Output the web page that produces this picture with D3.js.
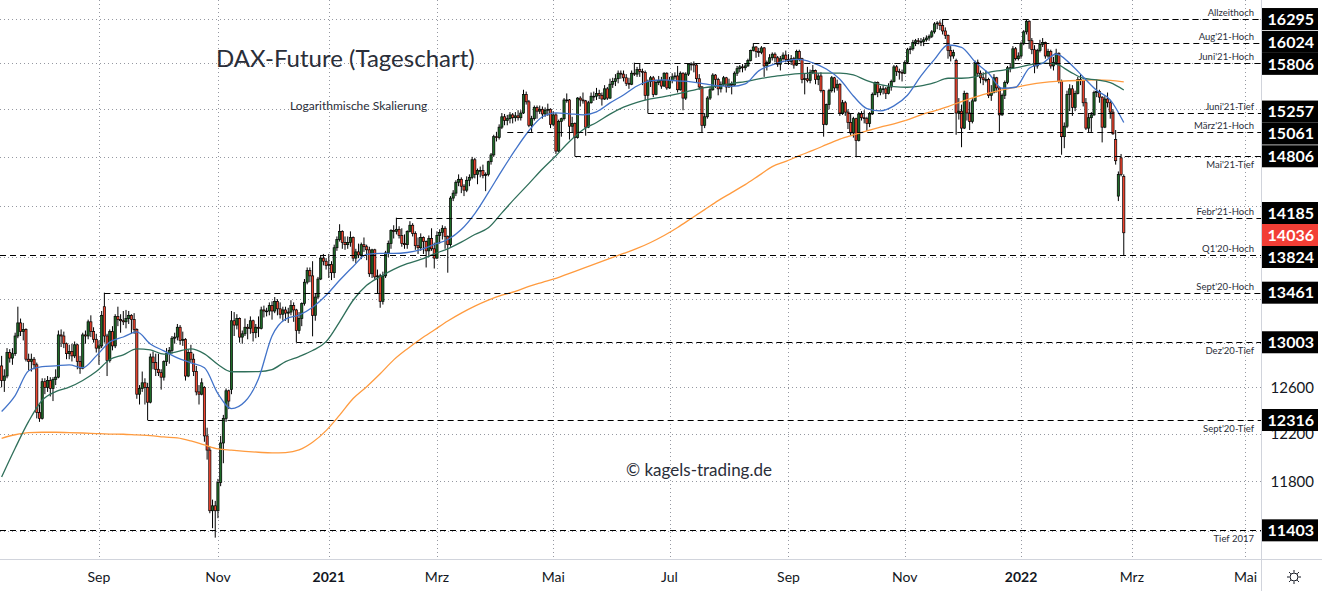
<!DOCTYPE html>
<html>
<head>
<meta charset="utf-8">
<script src="https://cdn.jsdelivr.net/npm/d3@7/dist/d3.min.js"></script>
<style>
  html, body { margin: 0; padding: 0; background: #fff; }
  svg { display: block; font-family: Lato, "Noto Sans", sans-serif; }
</style>
</head>
<body>
<svg id="chart" width="1322" height="591"></svg>
<script>
// trading calendar (Eurex) and axis labels
const startDate = "2020-07-13";
const endDate = "2022-05-31";
const holidays = ["2020-12-24", "2020-12-25", "2020-12-31", "2021-01-01", "2021-04-02", "2021-04-05",
  "2021-12-24", "2021-12-31", "2022-04-15", "2022-04-18"];
const tickDates = ["2020-09-01", "2020-11-02", "2021-01-04", "2021-03-01", "2021-05-03", "2021-07-01",
  "2021-09-01", "2021-11-01", "2022-01-03", "2022-03-01", "2022-05-02"];
const tickLabels = ["Sep", "Nov", "2021", "Mrz", "Mai", "Jul", "Sep", "Nov", "2022", "Mrz", "Mai"];
const priceTicks = [11400, 11800, 12200, 12600, 13000, 13400, 13800, 14300, 14800, 15300, 15800, 16300];

// marked price levels
const levelValues = [16295, 16024, 15806, 15257, 15061, 14806, 14185, 13824, 13461, 13003, 12316, 11403];
const levelNames = ["Allzeithoch", "Aug'21-Hoch", "Juni'21-Hoch", "Juni'21-Tief", "März'21-Hoch", "Mai'21-Tief",
  "Febr'21-Hoch", "Q1'20-Hoch", "Sept'20-Hoch", "Dez'20-Tief", "Sept'20-Tief", "Tief 2017"];
const levelFrom = ["2021-11-19", "2021-08-13", "2021-06-14", "2021-06-21", "2021-04-08", "2021-05-13",
  "2021-02-08", "2020-07-13", "2020-09-03", "2020-12-11", "2020-09-25", "2020-07-13"];
const lastPrice = 14036;

// daily candles [open, high, low, close] per month
const jul2020 = [[12790,12880,12600,12660],[12660,12760,12560,12700],[12700,12950,12680,12910],[12910,12940,12820,12860],[12860,12950,12800,12900],
  [12900,13090,12880,13060],[13060,13330,13040,13180],[13180,13220,13060,13100],[13100,13180,13020,13120],[13120,13130,12830,12850],
  [12850,12900,12750,12830],[12830,12900,12740,12850],[12850,12870,12760,12800],[12800,12820,12330,12380],[12380,12450,12300,12330]];
const aug2020 = [[12330,12680,12320,12650],[12650,12680,12540,12600],[12600,12700,12560,12660],[12660,12690,12520,12590],[12590,12690,12480,12670],
  [12670,12760,12620,12690],[12690,13110,12680,13070],[13070,13120,12960,13060],[13060,13100,12950,12990],[12990,13000,12850,12900],
  [12900,12980,12850,12920],[12920,12990,12830,12880],[12880,13010,12860,12980],[12980,12990,12760,12830],[12830,12880,12720,12770],
  [12770,13090,12760,13070],[13070,13110,12990,13060],[13060,13210,13030,13190],[13190,13250,13050,13100],[13100,13140,13000,13030],
  [13030,13080,12910,12950]];
const sep2020 = [[12950,13020,12800,12970],[12970,13290,12950,13250],[13330,13461,13000,13060],[13060,13080,12700,12840],[12840,13120,12820,13100],
  [13100,13150,12930,12970],[12970,13260,12950,13240],[13240,13330,13150,13210],[13210,13260,13090,13200],[13200,13290,13160,13190],
  [13190,13300,13130,13220],[13220,13290,13170,13250],[13250,13260,13080,13210],[13210,13270,13080,13120],[13120,13130,12500,12540],
  [12540,12620,12450,12590],[12590,12740,12560,12640],[12640,12680,12450,12600],[12600,12640,12316,12470],[12470,12900,12460,12870],
  [12870,12920,12760,12820],[12820,12900,12700,12760]];
const oct2020 = [[12760,12900,12700,12730],[12730,12760,12580,12690],[12690,12840,12660,12830],[12830,12950,12790,12900],[12900,12960,12810,12930],
  [12930,13060,12900,13040],[13040,13090,12990,13050],[13050,13170,13020,13140],[13140,13160,12980,13020],[13020,13100,12970,13030],
  [13030,13040,12660,12700],[12700,12940,12690,12910],[12910,12980,12820,12850],[12850,12900,12700,12740],[12740,12790,12530,12560],
  [12560,12620,12450,12540],[12540,12680,12530,12640],[12600,12610,12130,12180],[12180,12250,11980,12060],[12060,12090,11540,11560],
  [11560,11650,11420,11600],[11600,11640,11345,11560]];
const nov2020 = [[11560,11820,11500,11790],[11790,12180,11760,12120],[12120,12360,11950,12330],[12330,12590,12300,12570],[12570,12580,12410,12480],
  [12580,13290,12540,13200],[13200,13280,13060,13160],[13160,13260,13120,13220],[13220,13230,13000,13050],[13050,13110,12990,13080],
  [13080,13220,13060,13140],[13140,13170,13030,13130],[13130,13240,13080,13200],[13200,13210,13010,13090],[13090,13170,13040,13140],
  [13140,13240,13050,13130],[13130,13330,13120,13300],[13300,13340,13230,13290],[13290,13320,13240,13290],[13290,13370,13250,13340],
  [13340,13380,13210,13290]];
const dec2020 = [[13290,13420,13270,13380],[13380,13400,13250,13310],[13310,13370,13220,13260],[13260,13330,13200,13300],[13300,13330,13200,13270],
  [13270,13320,13180,13280],[13280,13390,13250,13340],[13340,13370,13190,13300],[13300,13310,13003,13110],[13110,13280,13080,13220],
  [13220,13370,13150,13360],[13360,13590,13340,13560],[13560,13700,13540,13670],[13670,13700,13560,13620],[13620,13760,13057,13250],
  [13250,13450,13200,13420],[13420,13610,13400,13590],[13590,13820,13580,13790],[13790,13830,13720,13760],[13760,13790,13680,13720]];
const jan2021 = [[13720,13830,13600,13730],[13730,13760,13580,13650],[13650,13920,13600,13890],[13890,14000,13860,13970],[13970,14120,13950,14050],
  [14050,14060,13880,13940],[13940,14000,13870,13920],[13920,14000,13880,13940],[13940,14050,13900,13990],[13990,14000,13760,13790],
  [13790,13880,13740,13850],[13850,13930,13790,13820],[13820,13940,13780,13920],[13920,13990,13850,13900],[13900,13920,13770,13870],
  [13870,13900,13610,13640],[13640,13880,13600,13870],[13870,13880,13590,13610],[13610,13680,13450,13620],[13620,13640,13320,13380]];
const feb2021 = [[13380,13660,13350,13620],[13620,13860,13600,13840],[13840,13960,13800,13930],[13930,14070,13880,14060],[14060,14110,13980,14050],
  [14050,14185,14020,14070],[14070,14100,13980,14010],[14010,14080,13900,13930],[13930,14020,13880,13920],[13920,14060,13880,14050],
  [14050,14150,14040,14110],[14110,14130,14000,14030],[14030,14050,13870,13910],[13910,13990,13830,13890],[13890,14030,13860,13990],
  [13990,14000,13830,13950],[13950,13960,13700,13860],[13860,14010,13800,13980],[13980,14080,13860,13880],[13880,13940,13690,13790]];
const mar2021 = [[13790,14050,13780,14010],[14010,14070,13930,14040],[14040,14110,13970,14080],[14080,14100,13880,14000],[14000,14010,13650,13920],
  [13920,14400,13900,14380],[14380,14460,14350,14430],[14430,14560,14400,14540],[14540,14620,14500,14570],[14570,14590,14430,14500],
  [14500,14520,14400,14460],[14460,14600,14440,14560],[14560,14620,14500,14590],[14590,14800,14570,14770],[14770,14790,14580,14620],
  [14620,14680,14520,14660],[14660,14700,14590,14660],[14660,14720,14580,14610],[14610,14640,14450,14620],[14620,14760,14600,14750],
  [14750,14840,14720,14820],[14820,15030,14800,15010],[15010,15061,14960,15000]];
const apr2021 = [[15000,15140,14980,15110],[15110,15260,15090,15220],[15220,15250,15130,15180],[15180,15240,15130,15200],[15200,15270,15150,15240],
  [15240,15260,15150,15210],[15210,15270,15170,15230],[15230,15290,15180,15210],[15210,15290,15180,15260],[15260,15510,15250,15460],
  [15460,15490,15350,15380],[15380,15400,15110,15130],[15130,15230,15060,15200],[15200,15340,15180,15320],[15320,15340,15200,15280],
  [15280,15340,15250,15300],[15300,15330,15200,15250],[15250,15320,15220,15290],[15290,15360,15230,15300],[15300,15310,15100,15140]];
const may2021 = [[15140,15280,15120,15240],[15240,15260,14830,14860],[14860,15190,14850,15170],[15170,15210,15010,15200],[15200,15420,15180,15400],
  [15400,15470,15370,15400],[15400,15410,14980,15120],[15120,15220,15050,15150],[15150,15160,14806,15000],[15000,15430,14990,15420],
  [15420,15440,15330,15400],[15400,15480,15360,15390],[15390,15400,15020,15110],[15110,15390,15100,15370],[15370,15480,15360,15440],
  [15440,15490,15390,15440],[15440,15530,15400,15470],[15470,15510,15410,15450],[15450,15480,15340,15410],[15410,15560,15400,15520],
  [15520,15540,15400,15420]];
const jun2021 = [[15420,15630,15410,15570],[15570,15640,15530,15600],[15600,15680,15550,15630],[15630,15720,15580,15690],[15690,15720,15630,15680],
  [15680,15720,15600,15640],[15640,15680,15550,15580],[15580,15640,15520,15570],[15570,15720,15560,15690],[15690,15806,15660,15680],
  [15680,15760,15650,15730],[15730,15790,15650,15710],[15710,15740,15560,15700],[15700,15720,15400,15450],[15450,15620,15257,15600],
  [15600,15660,15540,15640],[15640,15660,15430,15460],[15460,15620,15450,15590],[15590,15660,15560,15610],[15610,15650,15520,15550],
  [15550,15700,15540,15690],[15690,15700,15510,15530]];
const jul2021 = [[15530,15650,15520,15610],[15610,15690,15580,15650],[15650,15700,15620,15660],[15660,15770,15480,15510],[15510,15710,15500,15690],
  [15690,15700,15290,15420],[15420,15700,15400,15680],[15680,15800,15660,15790],[15790,15810,15720,15790],[15790,15820,15700,15780],
  [15780,15790,15590,15630],[15630,15680,15510,15540],[15540,15550,15050,15130],[15130,15260,15100,15220],[15220,15440,15200,15420],
  [15420,15540,15400,15510],[15510,15690,15500,15670],[15670,15680,15530,15620],[15620,15640,15450,15520],[15520,15600,15480,15570],
  [15570,15660,15550,15640],[15640,15650,15480,15540]];
const aug2021 = [[15540,15630,15530,15570],[15570,15600,15460,15560],[15560,15710,15550,15690],[15690,15770,15660,15740],[15740,15780,15700,15760],
  [15760,15790,15700,15750],[15750,15800,15720,15770],[15770,15850,15760,15830],[15830,15950,15820,15940],[15940,16024,15930,15980],
  [15980,15990,15860,15930],[15930,15970,15870,15920],[15920,15990,15900,15970],[15970,15980,15650,15770],[15770,15830,15720,15810],
  [15810,15900,15800,15860],[15860,15920,15830,15900],[15900,15920,15810,15860],[15860,15880,15760,15790],[15790,15880,15720,15850],
  [15850,15920,15830,15890],[15890,15940,15810,15840]];
const sep2021 = [[15840,15900,15780,15820],[15820,15890,15780,15850],[15850,15870,15740,15780],[15780,15950,15770,15930],[15930,15950,15820,15850],
  [15850,15860,15580,15620],[15620,15690,15460,15630],[15630,15760,15590,15610],[15610,15730,15580,15700],[15700,15780,15680,15720],
  [15720,15730,15570,15620],[15620,15690,15560,15660],[15660,15700,15480,15500],[15500,15510,15010,15140],[15140,15360,15130,15350],
  [15350,15520,15300,15500],[15500,15660,15480,15640],[15640,15650,15480,15530],[15530,15620,15500,15570],[15570,15580,15230,15260],
  [15260,15400,15240,15370],[15370,15390,15230,15270]];
const oct2021 = [[15270,15300,15090,15160],[15160,15260,15020,15050],[15050,15220,15000,15200],[15200,15210,14806,14970],[14970,15270,14960,15250],
  [15250,15280,15180,15210],[15210,15290,15150,15200],[15200,15220,15070,15150],[15150,15270,15110,15250],[15250,15480,15240,15460],
  [15460,15600,15450,15590],[15590,15600,15430,15480],[15480,15550,15450,15520],[15520,15560,15460,15520],[15520,15540,15410,15470],
  [15470,15580,15460,15540],[15540,15620,15500,15600],[15600,15780,15590,15760],[15760,15780,15660,15710],[15710,15740,15620,15700],
  [15700,15730,15600,15690]];
const nov2021 = [[15690,15830,15680,15810],[15810,15970,15790,15950],[15950,15990,15900,15960],[15960,16060,15940,16030],[16030,16070,15990,16050],
  [16050,16080,16010,16040],[16040,16080,15990,16040],[16040,16090,15990,16060],[16060,16110,16040,16080],[16080,16120,16050,16100],
  [16100,16170,16080,16150],[16150,16260,16130,16240],[16240,16270,16180,16250],[16250,16280,16170,16220],[16220,16295,16120,16160],
  [16160,16200,16070,16110],[16110,16120,15850,15940],[15940,15990,15820,15880],[15880,15950,15850,15920],[15830,15850,15030,15260],
  [15260,15420,15190,15280],[15280,15350,14900,15100]];
const dec2021 = [[15100,15500,15090,15470],[15470,15480,15180,15260],[15260,15380,15080,15170],[15170,15420,15150,15390],[15390,15830,15380,15810],
  [15810,15840,15650,15690],[15690,15720,15580,15640],[15640,15700,15560,15620],[15620,15720,15590,15620],[15620,15640,15420,15450],
  [15450,15560,15390,15480],[15480,15680,15470,15640],[15640,15650,15480,15530],[15530,15540,15061,15240],[15240,15470,15230,15450],
  [15450,15610,15410,15590],[15590,15770,15570,15750],[15750,15800,15700,15750],[15750,15990,15740,15960],[15960,15980,15830,15850],
  [15850,15920,15830,15880]];
const jan2022 = [[15880,16040,15850,16020],[16020,16170,16000,16150],[16150,16285,16120,16270],[16270,16280,15960,16050],[16050,16080,15900,15950],
  [15950,16000,15690,15770],[15770,15960,15740,15940],[15940,16060,15920,16010],[16010,16080,15980,16030],[16030,16040,15850,15880],
  [15880,15960,15860,15930],[15930,15950,15740,15770],[15770,15870,15720,15810],[15810,15960,15780,15910],[15910,15920,15580,15600],
  [15600,15620,14822,15010],[15010,15160,14890,15120],[15120,15500,15100,15460],[15460,15570,15280,15520],[15520,15560,15230,15320],
  [15320,15500,15280,15470]];
const feb2022 = [[15470,15650,15460,15620],[15620,15680,15560,15610],[15610,15620,15330,15370],[15370,15420,15080,15100],[15100,15250,15050,15210],
  [15210,15270,15060,15240],[15240,15500,15230,15480],[15480,15620,15430,15490],[15490,15510,15370,15430],[15430,15440,14950,15110],
  [15110,15440,15100,15410],[15410,15480,15320,15370],[15370,15400,15200,15270],[15270,15300,15030,15040],[14980,15080,14720,14760],
  [14400,14650,14350,14620],[14790,14830,14600,14620],[14600,14620,13810,14036]];

const monthKeys = ["2020-07", "2020-08", "2020-09", "2020-10", "2020-11", "2020-12", "2021-01", "2021-02", "2021-03", "2021-04",
  "2021-05", "2021-06", "2021-07", "2021-08", "2021-09", "2021-10", "2021-11", "2021-12", "2022-01", "2022-02"];
const monthCandles = [jul2020, aug2020, sep2020, oct2020, nov2020, dec2020, jan2021, feb2021, mar2021, apr2021,
  may2021, jun2021, jul2021, aug2021, sep2021, oct2021, nov2021, dec2021, jan2022, feb2022];

// moving averages, one value every 5 trading days from the first bar
const maStep = 5;
const ma20 = [12390,12528,12747,12783,12791,12800,12774,12880,13006,13051,13097,12988,12925,12862,12818,12774,12545,12415,12476,12676,
  13060,13215,13252,13325,13437,13578,13710,13825,13835,13835,13844,13873,13922,13970,14068,14226,14435,14658,14874,15072,
  15220,15262,15252,15241,15273,15368,15454,15551,15606,15617,15606,15595,15573,15551,15546,15573,15716,15781,15826,15842,
  15804,15737,15624,15443,15308,15283,15336,15450,15660,15842,16002,15976,15815,15689,15526,15537,15745,15800,15902,15800,
  15649,15503,15401,15160];
const ma50 = [11836,12076,12304,12487,12563,12602,12661,12740,12847,12889,12943,12934,12895,12919,12943,12898,12803,12738,12738,12740,
  12758,12829,12874,12928,13009,13190,13390,13530,13612,13682,13736,13777,13831,13880,13944,14019,14085,14232,14382,14526,
  14675,14812,14960,15083,15160,15248,15322,15375,15411,15436,15465,15500,15533,15551,15580,15598,15628,15653,15671,15686,
  15690,15690,15690,15671,15609,15565,15543,15537,15551,15587,15635,15635,15650,15700,15722,15748,15781,15800,15789,15708,
  15635,15617,15587,15508];
const ma200 = [12160,12190,12208,12211,12211,12208,12205,12200,12196,12194,12188,12183,12171,12163,12137,12103,12070,12059,12050,12042,
  12036,12039,12061,12126,12225,12358,12502,12606,12720,12844,12943,13033,13115,13197,13270,13335,13391,13437,13474,13521,
  13559,13596,13644,13691,13739,13787,13835,13883,13941,14009,14088,14176,14265,14355,14435,14516,14607,14699,14753,14812,
  14867,14926,14985,15030,15072,15111,15146,15188,15241,15283,15329,15383,15430,15473,15508,15537,15565,15587,15601,15608,
  15612,15617,15612,15595];

const title = "DAX-Future (Tageschart)";
const subtitle = "Logarithmische Skalierung";
const credit = "© kagels-trading.de";

// ---------------------------------------------------------------------------

const W = 1322, H = 591;
const plotW = 1261, plotH = 559;

const parse = d3.utcParse("%Y-%m-%d");
const fmtDay = d3.utcFormat("%Y-%m-%d");
const fmtMonth = d3.utcFormat("%Y-%m");

// trading days: weekdays minus exchange holidays
const holidaySet = new Set(holidays);
const days = d3.utcDay.range(parse(startDate), d3.utcDay.offset(parse(endDate), 1))
  .filter(d => d.getUTCDay() !== 0 && d.getUTCDay() !== 6 && !holidaySet.has(fmtDay(d)));
const dayIndex = new Map(days.map((d, i) => [fmtDay(d), i]));

const candles = [];
monthKeys.forEach((key, m) => {
  const inMonth = days.map((d, i) => ({ d, i })).filter(e => fmtMonth(e.d) === key);
  monthCandles[m].forEach((c, k) => {
    const e = inMonth[k];
    if (!e) return;
    candles.push({ i: e.i, o: c[0], h: c[1], l: c[2], c: c[3] });
  });
});

const x = d3.scaleLinear().domain([-0.6, 465.75]).range([0, plotW]);
const y = d3.scaleLog().domain([11177, 16513]).range([plotH, 0]);

const svg = d3.select("#chart");
svg.append("rect").attr("width", W).attr("height", H).attr("fill", "#fff");

svg.append("defs").append("clipPath").attr("id", "plot")
  .append("rect").attr("width", plotW).attr("height", plotH);

const crisp = v => Math.round(v) + 0.5;

// grid
const grid = svg.append("g")
  .attr("stroke", "#9598a1").attr("stroke-width", 1).attr("stroke-dasharray", "1,3");
tickDates.forEach(t => {
  const px = crisp(x(dayIndex.get(t)));
  grid.append("line").attr("x1", px).attr("x2", px).attr("y1", 0).attr("y2", plotH);
});
priceTicks.forEach(v => {
  const py = crisp(y(v));
  grid.append("line").attr("x1", 0).attr("x2", plotW).attr("y1", py).attr("y2", py);
});

// texts on the pane
svg.append("text").attr("x", 216).attr("y", 67)
  .attr("font-size", 24).attr("fill", "#2a2e39").text(title);
svg.append("text").attr("x", 290).attr("y", 110)
  .attr("font-size", 12).attr("fill", "#2a2e39").text(subtitle);
svg.append("text").attr("x", 699).attr("y", 476).attr("text-anchor", "middle")
  .attr("font-size", 17).attr("fill", "#2a2e39").text(credit);

const plot = svg.append("g").attr("clip-path", "url(#plot)");

// candles
const bodyW = 2.2;
plot.append("g").selectAll("line").data(candles).join("line")
  .attr("x1", d => x(d.i)).attr("x2", d => x(d.i))
  .attr("y1", d => y(d.h)).attr("y2", d => y(d.l))
  .attr("stroke", "#000").attr("stroke-width", 1);
plot.append("g").selectAll("rect").data(candles).join("rect")
  .attr("x", d => x(d.i) - bodyW / 2).attr("width", bodyW)
  .attr("y", d => y(Math.max(d.o, d.c)))
  .attr("height", d => Math.max(0.8, Math.abs(y(d.o) - y(d.c))))
  .attr("fill", d => d.c >= d.o ? "#1e6b28" : "#f2452f")
  .attr("stroke", "#000").attr("stroke-width", 0.7);

// moving averages
const maLine = d3.line().x(d => x(d[0])).y(d => y(d[1])).curve(d3.curveMonotoneX);
[[ma200, "#ff9b3f"], [ma50, "#2f6f5a"], [ma20, "#4273c9"]].forEach(([vals, col]) => {
  plot.append("path")
    .datum(vals.map((v, k) => [k * maStep, v]))
    .attr("d", maLine).attr("fill", "none")
    .attr("stroke", col).attr("stroke-width", 1.3);
});

// level lines and their names
const labelBelow = new Set(["Mai'21-Tief", "Dez'20-Tief", "Sept'20-Tief", "Tief 2017"]);
const lv = svg.append("g");
levelValues.forEach((v, k) => {
  const py = crisp(y(v));
  const idx = dayIndex.get(levelFrom[k]);
  const x0 = idx === 0 ? 0 : x(idx);
  lv.append("line").attr("x1", x0).attr("x2", plotW).attr("y1", py).attr("y2", py)
    .attr("stroke", "#000").attr("stroke-width", 1.2).attr("stroke-dasharray", "6,4");
  lv.append("text").attr("x", 1254)
    .attr("y", labelBelow.has(levelNames[k]) ? py + 11 : py - 4)
    .attr("text-anchor", "end").attr("font-size", 9.5).attr("fill", "#2a2e39")
    .text(levelNames[k]);
});

// axes frame
svg.append("line").attr("x1", 0).attr("x2", W).attr("y1", plotH + 0.5).attr("y2", plotH + 0.5)
  .attr("stroke", "#d1d4dc");
svg.append("line").attr("x1", plotW + 0.5).attr("x2", plotW + 0.5).attr("y1", 0).attr("y2", H)
  .attr("stroke", "#d1d4dc");

// time axis labels
tickDates.forEach((t, k) => {
  svg.append("text").attr("x", x(dayIndex.get(t))).attr("y", 582)
    .attr("text-anchor", "middle").attr("font-size", 14).attr("fill", "#131722")
    .attr("font-weight", /^\d{4}$/.test(tickLabels[k]) ? 700 : 400)
    .text(tickLabels[k]);
});

// price boxes, pushed apart where they overlap
const boxH = 22;
const boxes = levelValues.map(v => ({ v, cy: y(v), last: false }))
  .concat([{ v: lastPrice, cy: y(lastPrice), last: true }])
  .sort((a, b) => a.cy - b.cy);
for (let it = 0; it < 60; it++) {
  for (let k = 1; k < boxes.length; k++) {
    const ov = boxH - (boxes[k].cy - boxes[k - 1].cy);
    if (ov > 0) { boxes[k - 1].cy -= ov / 2; boxes[k].cy += ov / 2; }
  }
}

// price axis labels, skipped where a box hides them
priceTicks.forEach(v => {
  const py = y(v);
  if (boxes.some(b => Math.abs(b.cy - py) < 10)) return;
  svg.append("text").attr("x", 1314).attr("y", py).attr("dy", "0.35em")
    .attr("text-anchor", "end").attr("font-size", 15).attr("fill", "#131722").text(v);
});

const bx = svg.append("g");
boxes.forEach(b => {
  bx.append("rect").attr("x", plotW + 1).attr("y", b.cy - boxH / 2)
    .attr("width", 56).attr("height", boxH)
    .attr("fill", b.last ? "#f23e35" : "#000");
  bx.append("text").attr("x", 1314).attr("y", b.cy).attr("dy", "0.36em")
    .attr("text-anchor", "end").attr("font-size", 16).attr("font-weight", 700)
    .attr("fill", "#fff").text(b.v);
});

// settings icon
const gear = svg.append("g").attr("transform", "translate(1294,577)")
  .attr("stroke", "#131722").attr("fill", "none").attr("stroke-width", 1);
gear.append("circle").attr("r", 4);
d3.range(8).forEach(k => {
  const a = k * Math.PI / 4;
  gear.append("line")
    .attr("x1", Math.cos(a) * 4.5).attr("y1", Math.sin(a) * 4.5)
    .attr("x2", Math.cos(a) * 7).attr("y2", Math.sin(a) * 7);
});
</script>
</body>
</html>
